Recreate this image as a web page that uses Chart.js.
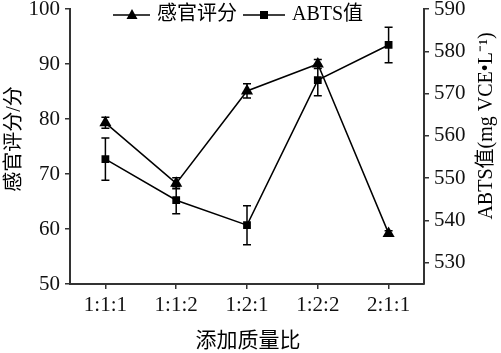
<!DOCTYPE html>
<html>
<head>
<meta charset="utf-8">
<script src="https://cdn.jsdelivr.net/npm/chart.js@4.4.1/dist/chart.umd.min.js"></script>
<style>
  body { margin: 0; background: #fff; }
  #wrap { width: 501px; height: 353px; position: relative; }
</style>
</head>
<body>
<div id="wrap"><canvas id="myChart"></canvas></div>
<script>
const categories = ['1:1:1', '1:1:2', '1:2:1', '1:2:2', '2:1:1']
const sensory = [79.3, 68.3, 85.1, 90.0, 59.2]
const sensoryErr = [1.0, 1.0, 1.3, 0.8, 0.5]
const abts = [554.5, 544.8, 538.9, 573.2, 581.5]
const abtsErr = [5.0, 3.2, 4.6, 3.7, 4.2]
const leftTicks = [50, 60, 70, 80, 90, 100]
const rightTicks = [530, 540, 550, 560, 570, 580, 590]

const serif = '"Liberation Serif", "Times New Roman", "Noto Sans CJK SC", serif'
const cjk = '"Liberation Serif", "Noto Sans CJK SC", serif'
const axisColor = '#333'

// error bars, drawn under the markers
const errorBars = {
  id: 'errorBars',
  beforeDatasetsDraw(chart) {
    const ctx = chart.ctx
    const xs = chart.scales.x
    const sets = [
      { vals: sensory, errs: sensoryErr, y: chart.scales.y },
      { vals: abts, errs: abtsErr, y: chart.scales.y2 }
    ]
    ctx.save()
    ctx.strokeStyle = '#000'
    ctx.lineWidth = 1.5
    sets.forEach((s) => {
      s.vals.forEach((v, i) => {
        const x = xs.getPixelForValue(i)
        const top = s.y.getPixelForValue(v + s.errs[i])
        const bot = s.y.getPixelForValue(v - s.errs[i])
        ctx.beginPath()
        ctx.moveTo(x, top); ctx.lineTo(x, bot)
        ctx.moveTo(x - 4, top); ctx.lineTo(x + 4, top)
        ctx.moveTo(x - 4, bot); ctx.lineTo(x + 4, bot)
        ctx.stroke()
      })
    })
    ctx.restore()
  }
}

// legend and axis titles
const decorations = {
  id: 'decorations',
  afterDraw(chart) {
    const ctx = chart.ctx
    ctx.save()
    ctx.fillStyle = '#000'
    ctx.strokeStyle = '#000'
    ctx.lineWidth = 1.5

    // legend
    const ly = 15
    ctx.beginPath()
    ctx.moveTo(113, ly); ctx.lineTo(150, ly)
    ctx.moveTo(243, ly); ctx.lineTo(285, ly)
    ctx.stroke()
    ctx.beginPath()
    ctx.moveTo(132, ly - 6); ctx.lineTo(137.5, ly + 4); ctx.lineTo(126.5, ly + 4)
    ctx.closePath(); ctx.fill()
    ctx.fillRect(260, ly - 4, 8, 8)
    ctx.font = '20px ' + cjk
    ctx.textBaseline = 'middle'
    ctx.textAlign = 'left'
    ctx.fillText('感官评分', 157, ly)
    ctx.fillText('ABTS值', 292, ly)

    // x title
    ctx.textAlign = 'center'
    ctx.font = '21px ' + cjk
    ctx.fillText('添加质量比', 248, 341)

    // left title
    ctx.font = '20px ' + cjk
    ctx.save()
    ctx.translate(15, 139)
    ctx.rotate(-Math.PI / 2)
    ctx.fillText('感官评分/分', 0, 0)
    ctx.restore()

    // right title
    ctx.save()
    ctx.translate(487, 126)
    ctx.rotate(-Math.PI / 2)
    ctx.fillText('ABTS值(mg VCE•L⁻¹)', 0, 0)
    ctx.restore()

    ctx.restore()
  }
}

// fixed axis boxes, no extra room for label overflow
const fitY = (w) => (s) => { s.width = w; s.paddingTop = 0; s.paddingBottom = 0 }

const ctx = document.getElementById('myChart')
// eslint-disable-next-line no-unused-vars
const myChart = new Chart(ctx, {
  type: 'line',
  data: {
    labels: categories,
    datasets: [
      {
        label: '感官评分',
        data: sensory,
        yAxisID: 'y',
        borderColor: '#000',
        backgroundColor: '#000',
        borderWidth: 1.5,
        lineTension: 0,
        pointStyle: 'triangle',
        pointRadius: 7,
        pointBackgroundColor: '#000',
        pointBorderWidth: 0
      },
      {
        label: 'ABTS值',
        data: abts,
        yAxisID: 'y2',
        borderColor: '#000',
        backgroundColor: '#000',
        borderWidth: 1.5,
        lineTension: 0,
        pointStyle: 'rect',
        pointRadius: 5.5,
        pointBackgroundColor: '#000',
        pointBorderWidth: 0
      }
    ]
  },
  options: {
    responsive: true,
    maintainAspectRatio: false,
    animation: false,
    layout: { padding: { top: 9, left: 0, right: 0, bottom: 0 } },
    plugins: {
      legend: { display: false },
      tooltip: { enabled: false }
    },
    scales: {
      x: {
        offset: true,
        afterFit: (s) => { s.height = 69; s.paddingLeft = 0; s.paddingRight = 0 },
        grid: { offset: false, drawOnChartArea: false, color: axisColor, tickLength: 5, lineWidth: 1.5 },
        border: { color: axisColor, width: 2 },
        ticks: { color: '#111', font: { family: serif, size: 21 }, padding: 4 }
      },
      y: {
        position: 'left',
        min: 50,
        max: 100,
        afterFit: fitY(70),
        afterBuildTicks: (s) => { s.ticks = leftTicks.map((v) => ({ value: v })) },
        grid: { drawOnChartArea: false, color: axisColor, tickLength: 5, lineWidth: 1.5 },
        border: { color: axisColor, width: 2 },
        ticks: { color: '#111', font: { family: serif, size: 21 }, padding: 5 }
      },
      y2: {
        position: 'right',
        min: 525,
        max: 590,
        afterFit: fitY(77),
        afterBuildTicks: (s) => { s.ticks = rightTicks.map((v) => ({ value: v })) },
        grid: { drawOnChartArea: false, color: axisColor, tickLength: 5, lineWidth: 1.5 },
        border: { color: axisColor, width: 2 },
        ticks: { color: '#111', font: { family: serif, size: 21 }, padding: 5 }
      }
    }
  },
  plugins: [errorBars, decorations]
})
</script>
</body>
</html>
